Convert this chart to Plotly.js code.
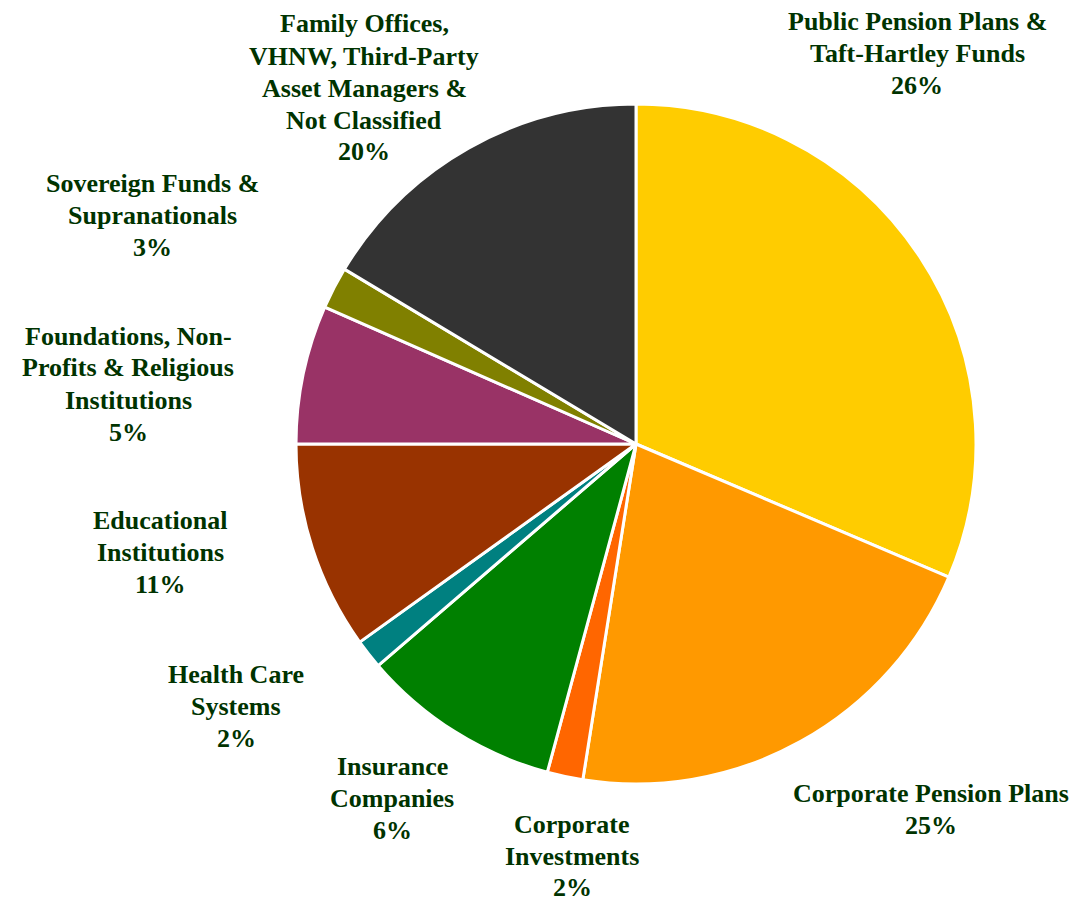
<!DOCTYPE html>
<html>
<head>
<meta charset="utf-8">
<script src="https://cdn.plot.ly/plotly-3.0.1.min.js"></script>
<style>html,body{margin:0;padding:0;background:#fff;}#chart{width:1076px;height:902px;}</style>
</head>
<body>
<div id="chart"></div>
<script>
// Categories (clockwise from 12 o'clock); "|" marks a line break
const categories = [
  "Public Pension Plans &|Taft-Hartley Funds",
  "Corporate Pension Plans",
  "Corporate|Investments",
  "Insurance|Companies",
  "Health Care|Systems",
  "Educational|Institutions",
  "Foundations, Non-|Profits & Religious|Institutions",
  "Sovereign Funds &|Supranationals",
  "Family Offices,|VHNW, Third-Party|Asset Managers &|Not Classified"
];
const sliceValues = [31.4, 21.1, 1.7, 9.5, 1.4, 9.9, 6.6, 2.0, 16.4];
// Percent labels as printed
const percentLabels = ["26%", "25%", "2%", "6%", "2%", "11%", "5%", "3%", "20%"];
const sliceColors = ["#FFCC00", "#FF9900", "#FF6600", "#008000", "#008080", "#993300", "#993366", "#808000", "#333333"];

// Label block centers in pixels (layout positions)
const labelPos = [
  [917, 53], [931, 809], [572, 856], [392, 798], [236, 706],
  [160, 552], [128, 384], [152, 215], [364, 88]
];
const lineStep = 32;

const W = 1076, H = 902;
const m = {l: 236, r: 40, t: 104, b: 118};
const pw = W - m.l - m.r, ph = H - m.t - m.b;

const annotations = [];
categories.forEach((c, i) => {
  const lines = c.split("|").concat([percentLabels[i]]);
  const n = lines.length;
  lines.forEach((ln, k) => {
    const py = labelPos[i][1] + (k - (n - 1) / 2) * lineStep;
    annotations.push({
      text: "<b>" + ln + "</b>",
      xref: "paper", yref: "paper",
      x: (labelPos[i][0] - m.l) / pw,
      y: 1 - (py - m.t) / ph,
      xanchor: "center", yanchor: "middle",
      showarrow: false, align: "center",
      font: {family: "Times New Roman, Liberation Serif, serif", size: 26, color: "#003300"}
    });
  });
});

const trace = {
  type: "pie",
  labels: categories.map(c => c.replace(/\|/g, " ")),
  values: sliceValues,
  sort: false,
  direction: "clockwise",
  rotation: 0,
  textinfo: "none",
  hoverinfo: "none",
  marker: {colors: sliceColors, line: {color: "#ffffff", width: 3}}
};

const layout = {
  width: W, height: H,
  margin: m,
  showlegend: false,
  paper_bgcolor: "#ffffff",
  plot_bgcolor: "#ffffff",
  annotations: annotations
};

Plotly.newPlot("chart", [trace], layout, {displayModeBar: false, staticPlot: true});
</script>
</body>
</html>
